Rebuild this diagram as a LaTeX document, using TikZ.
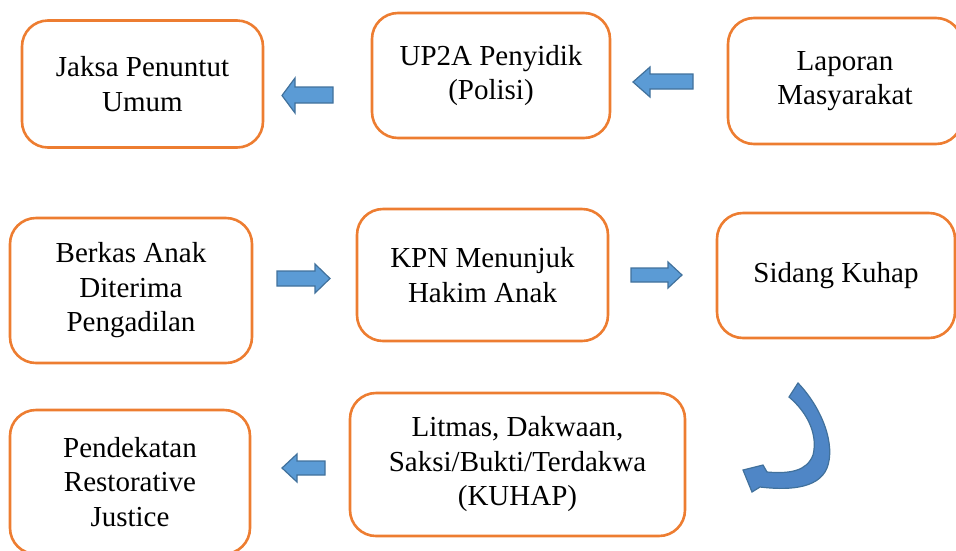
\documentclass[tikz,border=0pt]{standalone}
\usepackage{fontspec}
\setmainfont{Liberation Serif}
\definecolor{boxline}{HTML}{ED7D31}
\definecolor{arrfill}{HTML}{5B9BD5}
\definecolor{arrline}{HTML}{41719C}
\definecolor{curvefill}{HTML}{4F86C6}
\begin{document}
\begin{tikzpicture}[x=1pt,y=-1pt,
  box/.style={draw=boxline, line width=2.6pt, rounded corners=26pt, align=center,
    font=\fontsize{29}{34.5}\selectfont, inner sep=0pt},
  blk/.style={fill=arrfill, draw=arrline, line width=1.2pt, line join=miter}]
\useasboundingbox (0,0) rectangle (956,550);
\begin{scope}
\clip (0,0) rectangle (956,550);
% boxes
\node[box, minimum width=241pt, minimum height=127pt] (jaksa) at (142.5,84) {Jaksa Penuntut\\Umum};
\node[box, minimum width=238pt, minimum height=125pt] (up2a) at (491,75.5) {UP2A Penyidik\\(Polisi)};
\node[box, minimum width=234pt, minimum height=126pt] (lapor) at (845,81) {Laporan\\Masyarakat};
\node[box, minimum width=242pt, minimum height=145pt] (berkas) at (131,290.5) {Berkas Anak\\Diterima\\Pengadilan};
\node[box, minimum width=251pt, minimum height=132pt] (kpn) at (482.5,275) {KPN Menunjuk\\Hakim Anak};
\node[box, minimum width=238pt, minimum height=125pt] (sidang) at (836,275.5) {Sidang Kuhap};
\node[box, minimum width=240pt, minimum height=144pt] (restor) at (130,482) {Pendekatan\\Restorative\\Justice};
\node[box, minimum width=335pt, minimum height=143pt] (litmas) at (517.5,464.5) {Litmas, Dakwaan,\\Saksi/Bukti/Terdakwa\\(KUHAP)};
% block arrows
\draw[blk] (282,95.5) -- (295,78) -- (295,87) -- (333,87) -- (333,103) -- (295,103) -- (295,113) -- cycle;
\draw[blk] (633,82) -- (650,67) -- (650,74) -- (693,74) -- (693,89) -- (650,89) -- (650,97) -- cycle;
\draw[blk] (330,278.5) -- (315,264) -- (315,271) -- (277,271) -- (277,286) -- (315,286) -- (315,293) -- cycle;
\draw[blk] (682,275) -- (668,262) -- (668,268) -- (631,268) -- (631,282) -- (668,282) -- (668,288) -- cycle;
\draw[blk] (282,468) -- (297,454) -- (297,461) -- (325,461) -- (325,475) -- (297,475) -- (297,482) -- cycle;
% curved arrow
\draw[blk, fill=curvefill] (798,383) .. controls (822,408) and (836,445) .. (827,468)
  .. controls (818,490) and (785,490) .. (760,487) -- (752,492) -- (743,470) -- (763,465) -- (767,472)
  .. controls (790,474) and (807,471) .. (813,455) .. controls (818,435) and (808,413) .. (789,397) -- cycle;
\end{scope}
\end{tikzpicture}
\end{document}
